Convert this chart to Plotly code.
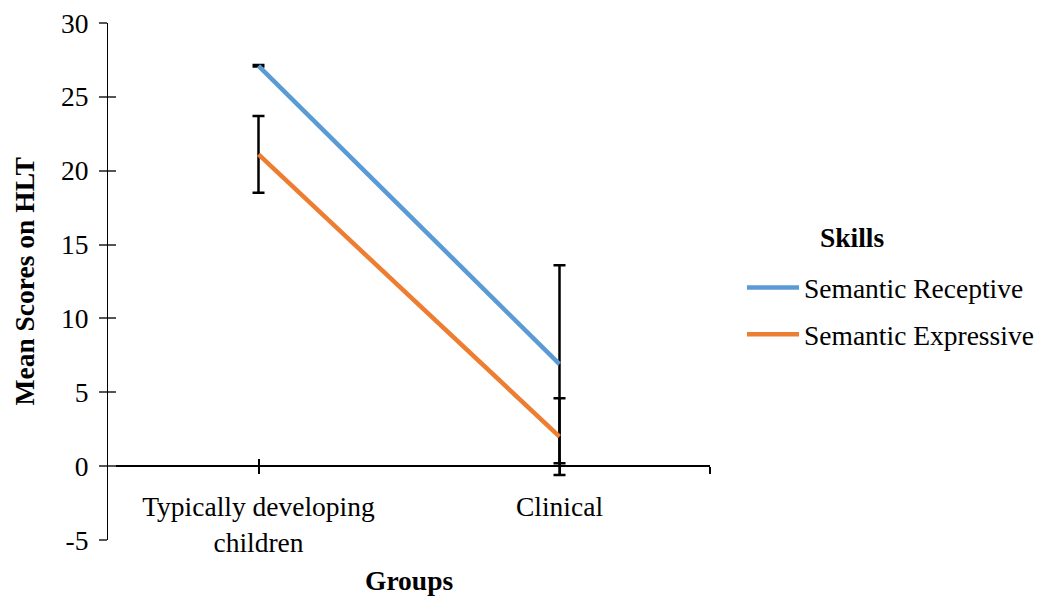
import plotly.graph_objects as go

# ---- data ----
groups = ["Typically developing<br>children", "Clinical"]
x_pos = [0, 1]
receptive = [27.1, 6.9]
receptive_err = [0.05, 6.7]
expressive = [21.1, 2.0]
expressive_err = [2.6, 2.6]
y_ticks = [-5, 0, 5, 10, 15, 20, 25, 30]
y_tick_labels = ["-5", "0", "5", "10", "15", "20", "25", "30"]
series_names = ["Semantic Receptive", "Semantic Expressive"]

W, H = 1042, 596
L, R, T, B = 108, 332, 23, 56
PW, PH = W - L - R, H - T - B
YMIN, YMAX = -5, 30
zero_pos = (0 - YMIN) / (YMAX - YMIN)

FONT = "Liberation Serif"
FS = 27.5
BLUE = "#5B9BD5"
ORANGE = "#ED7D31"


def px_x(px):
    return (px - L) / PW


def px_y(py):
    return (H - B - py) / PH


fig = go.Figure()
fig.add_trace(go.Scatter(
    x=x_pos, y=receptive, mode="lines", name=series_names[0],
    line=dict(color=BLUE, width=4.5),
    error_y=dict(type="data", array=receptive_err, color="black", thickness=2.5, width=6),
    legendgroup="a",
))
fig.add_trace(go.Scatter(
    x=x_pos, y=expressive, mode="lines", name=series_names[1],
    line=dict(color=ORANGE, width=4.5),
    error_y=dict(type="data", array=expressive_err, color="black", thickness=2.5, width=6),
    legendgroup="b",
))
fig.add_trace(go.Scatter(x=[], y=[], xaxis="x2", yaxis="y2", showlegend=False, hoverinfo="skip"))

tickvals_x = x_pos + [1.5]
ticktext_x = groups + [""]

fig.update_layout(
    width=W, height=H,
    margin=dict(l=L, r=R, t=T, b=B, autoexpand=False),
    paper_bgcolor="white", plot_bgcolor="white",
    font=dict(family=FONT, size=FS, color="black"),
    xaxis=dict(range=[-0.5, 1.5], anchor="free", position=zero_pos,
               showline=True, linecolor="black", linewidth=2,
               ticks="outside", ticklen=7, tickwidth=1.5, tickcolor="black",
               tickvals=tickvals_x, ticktext=ticktext_x, ticklabelstandoff=9,
               showgrid=False, zeroline=False),
    xaxis2=dict(range=[-0.5, 1.5], overlaying="x", anchor="free", position=zero_pos,
                ticks="inside", ticklen=7, tickwidth=1.5, tickcolor="black",
                tickvals=tickvals_x, showticklabels=False, showline=False,
                showgrid=False, zeroline=False),
    yaxis=dict(range=[YMIN, YMAX], tickvals=y_ticks, ticktext=y_tick_labels,
               showline=True, linecolor="black",
               linewidth=1, ticks="outside", ticklen=8, tickwidth=1.5, tickcolor="#555555",
               showgrid=False, zeroline=False, ticklabelstandoff=5),
    yaxis2=dict(range=[YMIN, YMAX], overlaying="y", anchor="x2", tickvals=y_ticks,
                ticks="inside", ticklen=8, tickwidth=1.5, tickcolor="#555555",
                showticklabels=False, showline=False, showgrid=False, zeroline=False),
    legend=dict(x=px_x(742), y=px_y(263), xanchor="left", yanchor="top",
                itemwidth=52, tracegroupgap=8, bgcolor="rgba(0,0,0,0)",
                font=dict(family=FONT, size=FS, color="black")),
    showlegend=True,
)

fig.add_annotation(text="<b>Skills</b>", xref="paper", yref="paper",
                   x=px_x(852), y=px_y(237), showarrow=False,
                   xanchor="center", yanchor="middle",
                   font=dict(family=FONT, size=FS, color="black"))
fig.add_annotation(text="<b>Groups</b>", xref="paper", yref="paper",
                   x=0.5, y=px_y(580), showarrow=False,
                   xanchor="center", yanchor="middle",
                   font=dict(family=FONT, size=FS, color="black"))
fig.add_annotation(text="<b>Mean Scores on HLT</b>", xref="paper", yref="paper",
                   x=px_x(24), y=0.5, showarrow=False, textangle=-90,
                   xanchor="center", yanchor="middle",
                   font=dict(family=FONT, size=FS, color="black"))

fig.write_html("out.html", post_script="document.body.style.margin='0';",
               config={"displayModeBar": False})
